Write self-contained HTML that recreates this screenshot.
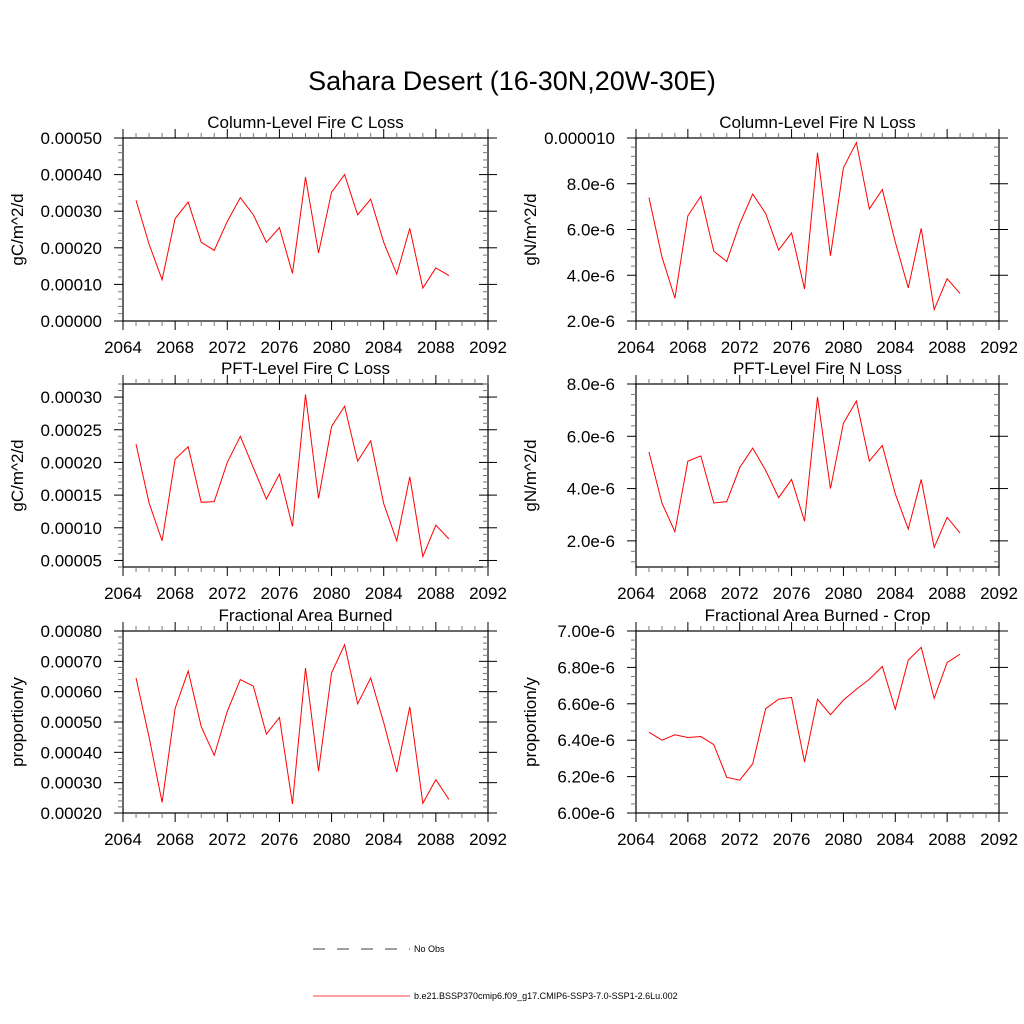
<!DOCTYPE html>
<html><head><meta charset="utf-8"><style>
body{margin:0;background:#fff;}
svg{display:block;font-family:"Liberation Sans",sans-serif;}
</style></head><body>
<svg id="c" width="1024" height="1024">
<text x="512" y="90" font-size="27" text-anchor="middle">Sahara Desert (16-30N,20W-30E)</text>
<g>
<line x1="313" y1="949" x2="410" y2="949" stroke="#000" stroke-width="0.8" stroke-dasharray="12,12"/>
<text x="414" y="952" font-size="9">No Obs</text>
<line x1="313" y1="996" x2="410" y2="996" stroke="#f00" stroke-width="0.8"/>
<text x="414" y="999" font-size="9">b.e21.BSSP370cmip6.f09_g17.CMIP6-SSP3-7.0-SSP1-2.6Lu.002</text>
</g>
</svg>
<script>
const years=[2065,2066,2067,2068,2069,2070,2071,2072,2073,2074,2075,2076,2077,2078,2079,2080,2081,2082,2083,2084,2085,2086,2087,2088,2089];
const xTicks=[2064,2068,2072,2076,2080,2084,2088,2092];
const colC=[0.00033,0.00021,0.000113,0.00028,0.000325,0.000215,0.000193,0.000272,0.000337,0.00029,0.000215,0.000255,0.00013,0.000393,0.000186,0.000352,0.0004,0.00029,0.000333,0.000215,0.000128,0.000253,0.00009,0.000145,0.000124];
const colN=[7.4e-6,4.8e-6,3.0e-6,6.6e-6,7.45e-6,5.05e-6,4.6e-6,6.25e-6,7.55e-6,6.7e-6,5.1e-6,5.85e-6,3.4e-6,9.35e-6,4.85e-6,8.7e-6,9.8e-6,6.9e-6,7.75e-6,5.45e-6,3.45e-6,6.05e-6,2.5e-6,3.85e-6,3.2e-6];
const pftC=[0.000228,0.000138,0.00008,0.000205,0.000224,0.000139,0.00014,0.0002,0.00024,0.000192,0.000144,0.000182,0.000102,0.000304,0.000145,0.000255,0.000286,0.000202,0.000233,0.000137,0.00008,0.000178,0.000056,0.000104,0.000083];
const pftN=[5.4e-6,3.45e-6,2.35e-6,5.05e-6,5.25e-6,3.45e-6,3.5e-6,4.8e-6,5.55e-6,4.7e-6,3.65e-6,4.35e-6,2.75e-6,7.5e-6,4.0e-6,6.5e-6,7.35e-6,5.05e-6,5.65e-6,3.8e-6,2.45e-6,4.35e-6,1.75e-6,2.9e-6,2.3e-6];
const fab=[0.000645,0.00045,0.000235,0.000545,0.000668,0.000485,0.00039,0.000535,0.00064,0.000618,0.00046,0.000515,0.00023,0.000678,0.000338,0.000662,0.000755,0.00056,0.000645,0.000498,0.000335,0.00055,0.000232,0.00031,0.000245];
const fabCrop=[6.444e-6,6.40e-6,6.43e-6,6.415e-6,6.42e-6,6.376e-6,6.196e-6,6.18e-6,6.27e-6,6.573e-6,6.625e-6,6.635e-6,6.28e-6,6.625e-6,6.54e-6,6.62e-6,6.68e-6,6.735e-6,6.805e-6,6.57e-6,6.84e-6,6.91e-6,6.63e-6,6.827e-6,6.873e-6];
const tk1=["0.00000","0.00010","0.00020","0.00030","0.00040","0.00050"];
const tk2=["2.0e-6","4.0e-6","6.0e-6","8.0e-6","0.000010"];
const tk3=["0.00005","0.00010","0.00015","0.00020","0.00025","0.00030"];
const tk4=["2.0e-6","4.0e-6","6.0e-6","8.0e-6"];
const tk5=["0.00020","0.00030","0.00040","0.00050","0.00060","0.00070","0.00080"];
const tk6=["6.00e-6","6.20e-6","6.40e-6","6.60e-6","6.80e-6","7.00e-6"];
const tv1=[0,0.0001,0.0002,0.0003,0.0004,0.0005];
const tv2=[2e-6,4e-6,6e-6,8e-6,1e-5];
const tv3=[0.00005,0.0001,0.00015,0.0002,0.00025,0.0003];
const tv4=[2e-6,4e-6,6e-6,8e-6];
const tv5=[0.0002,0.0003,0.0004,0.0005,0.0006,0.0007,0.0008];
const tv6=[6.0e-6,6.2e-6,6.4e-6,6.6e-6,6.8e-6,7.0e-6];
const svg=document.getElementById('c');const NS='http://www.w3.org/2000/svg';
function mk(t,a,p){const e=document.createElementNS(NS,t);for(const k in a)e.setAttribute(k,a[k]);(p||svg).appendChild(e);return e;}
function panel(name,title,ytitle,x0,x1,y0,y1,ymin,ymax,tv,tl,minorPer,vals){
 const g=mk('g',{});
 
 
 const sx=v=>x0+(v-2064)/(2092-2064)*(x1-x0);
 const sy=v=>y1-(v-ymin)/(ymax-ymin)*(y1-y0);
 const fr=mk('rect',{x:x0,y:y0,width:x1-x0,height:y1-y0,fill:'none',stroke:'#000','stroke-width':1.2},g);
 
 
 for(let yr=2064;yr<=2092;yr++){
  const x=sx(yr);const maj=(yr-2064)%4==0;const L=maj?9:5;
  mk('line',{x1:x,y1:y1,x2:x,y2:y1+L,stroke:maj?'#000':'#777','stroke-width':1},g);
  mk('line',{x1:x,y1:y0,x2:x,y2:y0-L,stroke:maj?'#000':'#777','stroke-width':1},g);
 }
 xTicks.forEach(v=>{const t=mk('text',{x:sx(v),y:y1+32,'font-size':17,'text-anchor':'middle'},g);t.textContent=v;
  
  });
 const step=tv[1]-tv[0];const ms=step/minorPer;
 for(let v=tv[0]-step;v<=ymax+1e-12;v+=ms){
  if(v<ymin-1e-12)continue;const y=sy(v);
  const isMaj=tv.some(t=>Math.abs(t-v)<ms/10);const L=isMaj?9:5;
  mk('line',{x1:x0-L,y1:y,x2:x0,y2:y,stroke:isMaj?'#000':'#777','stroke-width':1},g);
  mk('line',{x1:x1,y1:y,x2:x1+(isMaj?9:0),y2:y,stroke:'#000','stroke-width':1},g);
  mk('line',{x1:x1-L,y1:y,x2:x1,y2:y,stroke:isMaj?'#000':'#777','stroke-width':1},g);
 }
 tv.forEach((v,i)=>{const t=mk('text',{x:x0-21,y:sy(v)+6,'font-size':17,'text-anchor':'end'},g);t.textContent=tl[i];
  
  });
 const tt=mk('text',{x:(x0+x1)/2,y:y0-10,'font-size':17,'text-anchor':'middle'},g);tt.textContent=title;
 
 
 const yt=mk('text',{x:0,y:0,'font-size':17,'text-anchor':'middle',transform:`translate(${x0-100},${(y0+y1)/2}) rotate(-90)`},g);yt.textContent=ytitle;
 
 
 const pl=mk('polyline',{points:vals.map((v,i)=>sx(years[i])+','+sy(v)).join(' '),fill:'none',stroke:'#f00','stroke-width':1},g);
 
 
}
panel('panel-column-c','Column-Level Fire C Loss','gC/m^2/d',123,488,138,321,0,0.0005,tv1,tk1,5,colC);
panel('panel-column-n','Column-Level Fire N Loss','gN/m^2/d',636,999,138,321,2e-6,1e-5,tv2,tk2,5,colN);
panel('panel-pft-c','PFT-Level Fire C Loss','gC/m^2/d',123,488,384,567,0.00004,0.00032,tv3,tk3,5,pftC);
panel('panel-pft-n','PFT-Level Fire N Loss','gN/m^2/d',636,999,384,567,1e-6,8e-6,tv4,tk4,5,pftN);
panel('panel-fab','Fractional Area Burned','proportion/y',123,488,631,813,0.0002,0.0008,tv5,tk5,5,fab);
panel('panel-fab-crop','Fractional Area Burned - Crop','proportion/y',636,999,631,813,6.0e-6,7.0e-6,tv6,tk6,4,fabCrop);
</script>
</body></html>
